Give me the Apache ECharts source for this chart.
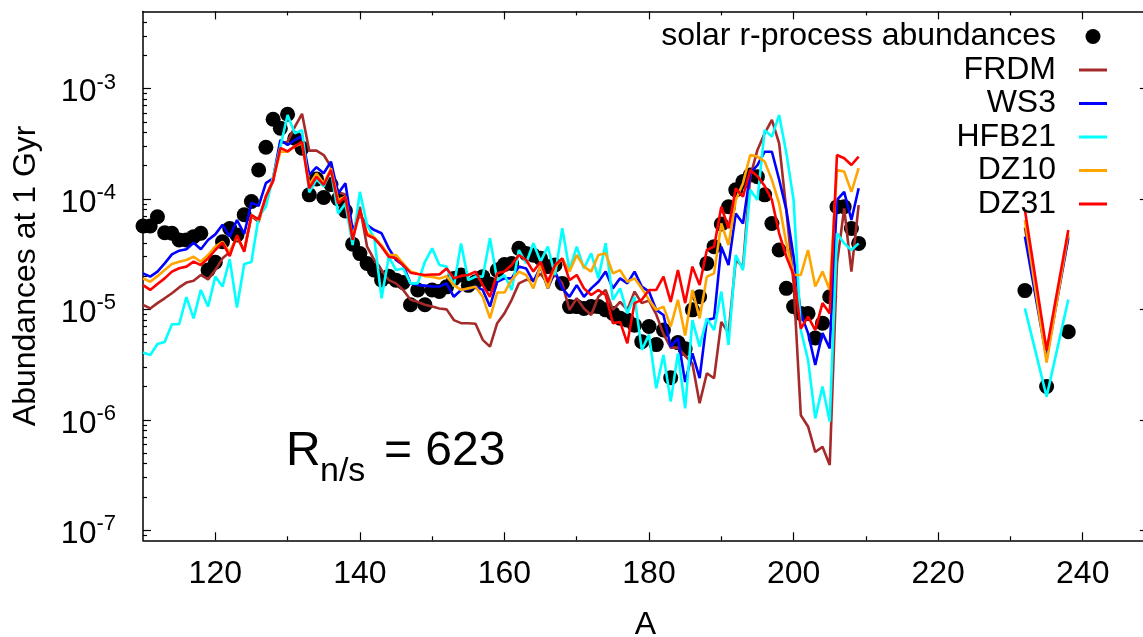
<!DOCTYPE html>
<html>
<head>
<meta charset="utf-8">
<script src="https://cdn.jsdelivr.net/npm/echarts@6/dist/echarts.min.js"></script>
<style>
  html, body { margin: 0; padding: 0; background: #fff; }
  #chart { width: 1143px; height: 637px; }
</style>
</head>
<body>
<div id="chart"></div>
<script>
// mass numbers A = 110 .. 209, then the actinides
const massNumbers = Array.from({ length: 100 }, (_, i) => 110 + i)
const actinideMass = [232, 235, 238]

const solar = [
  5.7e-5, 5.7e-5, 6.9e-5, 4.95e-5, 4.9e-5, 4.26e-5, 4.26e-5, 4.56e-5, 4.9e-5, 2.27e-5,
  2.67e-5, 4.1e-5, 5.4e-5, 4.72e-5, 7.2e-5, 9.5e-5, 1.83e-4, 2.94e-4, 5.27e-4, 4.37e-4,
  5.85e-4, 3.55e-4, 2.88e-4, 1.09e-4, 1.52e-4, 1.03e-4, 1.35e-4, 1.0e-4, 7.8e-5, 3.9e-5,
  3.2e-5, 2.6e-5, 2.27e-5, 1.85e-5, 2.0e-5, 1.84e-5, 1.75e-5, 1.1e-5, 1.5e-5, 1.1e-5,
  1.5e-5, 1.45e-5, 1.6e-5, 1.9e-5, 2.05e-5, 1.65e-5, 1.78e-5, 1.98e-5, 1.7e-5, 2.27e-5,
  2.55e-5, 2.6e-5, 3.57e-5, 3.2e-5, 3.1e-5, 2.9e-5, 2.44e-5, 2.52e-5, 1.72e-5, 1.06e-5,
  1.06e-5, 1.02e-5, 1.06e-5, 1.06e-5, 9.9e-6, 9.2e-6, 8.3e-6, 8.0e-6, 7.2e-6, 5.1e-6,
  7.0e-6, 4.8e-6, 6.5e-6, 2.4e-6, 5.0e-6, 4.4e-6, 9.9e-6, 1.3e-5, 2.61e-5, 3.7e-5,
  5.94e-5, 8.5e-5, 1.21e-4, 1.44e-4, 1.65e-4, 1.59e-4, 1.09e-4, 6.0e-5, 3.45e-5, 1.55e-5,
  1.06e-5, 9.2e-6, 9.2e-6, 5.5e-6, 7.5e-6, 1.3e-5, 8.5e-5, 8.5e-5, 5.4e-5, 3.96e-5
]
const solarActinides = [1.48e-5, 2.0e-6, 6.28e-6]

const frdm = [
  1.1e-5, 1.02e-5, 1.14e-5, 1.26e-5, 1.4e-5, 1.58e-5, 1.75e-5, 1.82e-5, 2.05e-5, 1.87e-5,
  2.27e-5, 2.9e-5, 3.3e-5, 4.5e-5, 3.4e-5, 7.0e-5, 6.2e-5, 1.05e-4, 1.45e-4, 3.2e-4,
  3.3e-4, 4.5e-4, 5.9e-4, 2.74e-4, 2.74e-4, 2.5e-4, 1.96e-4, 1.15e-4, 1.1e-4, 4.5e-5,
  8.5e-5, 3.7e-5, 2.8e-5, 2.27e-5, 1.84e-5, 1.72e-5, 1.5e-5, 1.22e-5, 1.17e-5, 1.1e-5,
  1.06e-5, 1.02e-5, 1.0e-5, 8.0e-6, 7.5e-6, 7.5e-6, 7.4e-6, 5.3e-6, 4.6e-6, 7.5e-6,
  9.2e-6, 1.22e-5, 1.72e-5, 1.85e-5, 1.85e-5, 2.1e-5, 1.72e-5, 2.05e-5, 1.72e-5, 9.9e-6,
  1.26e-5, 1.02e-5, 8.9e-6, 1.3e-5, 1.5e-5, 9.9e-6, 1.17e-5, 9.9e-6, 1.45e-5, 1.14e-5,
  1.2e-5, 9.0e-6, 6.0e-6, 4.5e-6, 4.5e-6, 3.8e-6, 3.24e-6, 1.41e-6, 2.64e-6, 2.38e-6,
  7.7e-6, 6.1e-6, 2.8e-5, 2.44e-5, 1.59e-4, 2.78e-4, 3.93e-4, 5.2e-4, 3.19e-4, 7.9e-5,
  1.72e-5, 1.1e-6, 8.7e-7, 5.1e-7, 5.7e-7, 3.9e-7, 2.6e-5, 8.2e-5, 2.2e-5, 8.8e-5
]
const frdmActinides = [5.5e-5, 3.8e-6, 4.6e-5]

const ws3 = [
  2.12e-5, 1.98e-5, 2.2e-5, 2.61e-5, 3.15e-5, 3.4e-5, 3.5e-5, 4.02e-5, 3.5e-5, 4.25e-5,
  4.78e-5, 5.85e-5, 4.56e-5, 6.45e-5, 4.82e-5, 9.27e-5, 8.65e-5, 1.39e-4, 1.54e-4, 3.42e-4,
  3.08e-4, 3.42e-4, 3.72e-4, 1.65e-4, 1.94e-4, 1.71e-4, 2.18e-4, 1.12e-4, 1.39e-4, 5.23e-5,
  7.16e-5, 5.8e-5, 5.23e-5, 4.89e-5, 3.57e-5, 2.8e-5, 2.52e-5, 1.72e-5, 1.66e-5, 1.64e-5,
  1.61e-5, 1.61e-5, 1.72e-5, 1.3e-5, 1.5e-5, 1.52e-5, 1.61e-5, 1.5e-5, 1.06e-5, 1.78e-5,
  1.91e-5, 1.91e-5, 2.44e-5, 2.35e-5, 1.78e-5, 2.44e-5, 1.55e-5, 2.2e-5, 1.55e-5, 1.3e-5,
  1.66e-5, 1.3e-5, 1.55e-5, 1.78e-5, 2.2e-5, 1.55e-5, 1.91e-5, 1.72e-5, 2.2e-5, 1.61e-5,
  1.45e-5, 9.9e-6, 8.9e-6, 4.6e-6, 5.5e-6, 2.2e-6, 4.0e-6, 2.38e-6, 8.0e-6, 8.3e-6,
  3.7e-5, 2.52e-5, 7.4e-5, 6.0e-5, 1.71e-4, 2.03e-4, 2.68e-4, 2.68e-4, 1.5e-4, 7.95e-5,
  3.0e-5, 9.2e-6, 6.1e-6, 3.13e-6, 6.1e-6, 4.43e-6, 9.8e-5, 1.16e-4, 6.45e-5, 1.25e-4
]
const ws3Actinides = [4.56e-5, 3.6e-6, 4.4e-5]

const hfb21 = [
  4.06e-6, 3.86e-6, 4.86e-6, 5.07e-6, 7.33e-6, 7.33e-6, 1.29e-5, 8.3e-6, 1.5e-5, 1.06e-5,
  1.98e-5, 1.61e-5, 2.84e-5, 1.04e-5, 2.58e-5, 2.69e-5, 6.9e-5, 8.5e-5, 1.6e-4, 2.98e-4,
  5.77e-4, 3.94e-4, 4.2e-4, 1.15e-4, 1.5e-4, 1.3e-4, 1.8e-4, 7.4e-5, 9.1e-5, 3.83e-5,
  1.16e-4, 5.8e-5, 4.4e-5, 1.26e-5, 3.0e-5, 2.27e-5, 2.35e-5, 1.72e-5, 1.72e-5, 2.7e-5,
  3.57e-5, 2.52e-5, 2.44e-5, 1.61e-5, 3.96e-5, 1.84e-5, 1.98e-5, 1.98e-5, 4.4e-5, 1.84e-5,
  2.05e-5, 1.5e-5, 3.45e-5, 2.62e-5, 3.97e-5, 2.71e-5, 3.7e-5, 2.05e-5, 5.43e-5, 2.27e-5,
  3.7e-5, 2.35e-5, 3.22e-5, 1.91e-5, 3.97e-5, 1.22e-5, 1.55e-5, 9.2e-6, 1.3e-5, 4.3e-6,
  5.9e-6, 1.93e-6, 3.87e-6, 1.46e-6, 4.0e-6, 1.27e-6, 8.0e-6, 4.6e-6, 8.3e-6, 6.5e-6,
  1.45e-5, 4.76e-6, 3.11e-5, 2.27e-5, 1.21e-4, 9.8e-5, 4.22e-4, 3.67e-4, 5.77e-4, 2.6e-4,
  9.8e-5, 6.5e-6, 3.48e-6, 1.03e-6, 2.0e-6, 9.6e-7, 4.89e-5, 3.96e-5, 3.45e-5, 3.96e-5
]
const hfb21Actinides = [1.02e-5, 1.62e-6, 1.23e-5]

const dz10 = [
  1.91e-5, 1.78e-5, 2.0e-5, 2.27e-5, 2.58e-5, 2.7e-5, 2.8e-5, 3.0e-5, 2.7e-5, 3.11e-5,
  3.7e-5, 4.1e-5, 3.22e-5, 4.55e-5, 3.45e-5, 7.16e-5, 6.45e-5, 1.05e-4, 1.5e-4, 2.68e-4,
  2.68e-4, 3.0e-4, 3.2e-4, 1.34e-4, 1.7e-4, 1.38e-4, 1.9e-4, 9.8e-5, 1.05e-4, 4.4e-5,
  7.7e-5, 4.9e-5, 4.5e-5, 3.8e-5, 3.1e-5, 3.1e-5, 2.6e-5, 2.2e-5, 2.1e-5, 2.0e-5,
  1.97e-5, 1.9e-5, 2.0e-5, 1.66e-5, 1.5e-5, 1.55e-5, 1.6e-5, 1.3e-5, 8.3e-6, 1.42e-5,
  1.42e-5, 1.85e-5, 2.2e-5, 2.05e-5, 1.55e-5, 2.52e-5, 1.55e-5, 2.44e-5, 2.9e-5, 2.2e-5,
  3.11e-5, 2.44e-5, 2.2e-5, 3.11e-5, 3.22e-5, 2.12e-5, 2.27e-5, 1.78e-5, 1.91e-5, 1.55e-5,
  1.22e-5, 9.9e-6, 1.06e-5, 7.0e-6, 1.22e-5, 5.8e-6, 1.5e-5, 8.3e-6, 1.98e-5, 2.12e-5,
  6.0e-5, 3.83e-5, 9.8e-5, 1.39e-4, 2.5e-4, 2.42e-4, 2.18e-4, 1.49e-4, 9.1e-5, 3.96e-5,
  2.05e-5, 2.05e-5, 3.45e-5, 1.61e-5, 2.2e-5, 1.5e-5, 1.83e-4, 1.77e-4, 1.16e-4, 1.9e-4
]
const dz10Actinides = [6.45e-5, 3.3e-6, 4.9e-5]

const dz31 = [
  1.66e-5, 1.5e-5, 1.7e-5, 1.91e-5, 2.2e-5, 2.36e-5, 2.44e-5, 2.71e-5, 2.52e-5, 2.9e-5,
  3.45e-5, 4.02e-5, 3.04e-5, 4.71e-5, 3.33e-5, 7.16e-5, 6.54e-5, 1.05e-4, 1.47e-4, 2.9e-4,
  2.7e-4, 3.0e-4, 3.3e-4, 1.25e-4, 1.59e-4, 1.34e-4, 1.83e-4, 9.1e-5, 1.05e-4, 4.26e-5,
  7.95e-5, 4.72e-5, 4.4e-5, 3.7e-5, 3.0e-5, 2.9e-5, 2.52e-5, 2.15e-5, 2.09e-5, 2.05e-5,
  2.07e-5, 2.07e-5, 2.35e-5, 1.91e-5, 2.01e-5, 2.05e-5, 2.2e-5, 1.66e-5, 1.3e-5, 2.12e-5,
  2.2e-5, 2.52e-5, 3.11e-5, 2.8e-5, 2.2e-5, 2.7e-5, 1.78e-5, 2.52e-5, 2.9e-5, 1.84e-5,
  2.05e-5, 1.55e-5, 1.35e-5, 1.5e-5, 1.35e-5, 7.5e-6, 7.7e-6, 4.93e-6, 1.14e-5, 1.22e-5,
  1.5e-5, 1.5e-5, 1.98e-5, 1.17e-5, 2.27e-5, 1.14e-5, 2.44e-5, 1.66e-5, 3.45e-5, 3.7e-5,
  8.5e-5, 5.42e-5, 1.25e-4, 1.05e-4, 1.83e-4, 1.61e-4, 1.31e-4, 9.8e-5, 4.89e-5, 3.0e-5,
  2.05e-5, 6.7e-6, 8.6e-6, 6.5e-6, 1.14e-5, 9.2e-6, 2.5e-4, 2.34e-4, 2.03e-4, 2.42e-4
]
const dz31Actinides = [7.95e-5, 4.28e-6, 5.23e-5]

// axis ticks
const xMajorTicks = [120, 140, 160, 180, 200, 220, 240]
const xMinorTicks = [130, 150, 170, 190, 210, 230]
const yMajorTicks = [1e-7, 1e-6, 1e-5, 1e-4, 1e-3]
const yMinorTicks = [
  9e-8,
  2e-7, 3e-7, 4e-7, 5e-7, 6e-7, 7e-7, 8e-7, 9e-7,
  2e-6, 3e-6, 4e-6, 5e-6, 6e-6, 7e-6, 8e-6, 9e-6,
  2e-5, 3e-5, 4e-5, 5e-5, 6e-5, 7e-5, 8e-5, 9e-5,
  2e-4, 3e-4, 4e-4, 5e-4, 6e-4, 7e-4, 8e-4, 9e-4,
  2e-3, 3e-3, 4e-3
]

const FONT = "Liberation Sans, Arial, sans-serif"
// flat bar used as legend sample for the model lines
const LINE_ICON = "path://M0,0H28V3H0Z"

// main region and actinides, with a break in between
function toPairs(main, act) {
  const pts = main.map((v, i) => [massNumbers[i], v])
  pts.push([220, null])
  actinideMass.forEach((a, i) => pts.push([a, act[i]]))
  return pts
}

function lineSeries(name, color, main, act) {
  return {
    name: name,
    type: "line",
    symbol: "none",
    connectNulls: false,
    lineStyle: { color: color, width: 2.6 },
    itemStyle: { color: color },
    data: toPairs(main, act)
  }
}

const axisLineStyle = { show: true, lineStyle: { color: "#000", width: 1.5 } }

function xAxisDef(position, ticks, len, withLabels, showLine) {
  return {
    type: "value",
    position: position,
    min: 110,
    max: 249,
    axisLine: showLine ? axisLineStyle : { show: false },
    axisTick: {
      show: true,
      inside: true,
      length: len,
      customValues: ticks,
      lineStyle: { color: "#000", width: 1.2 }
    },
    axisLabel: withLabels
      ? { show: true, customValues: ticks, fontSize: 32, fontFamily: FONT, color: "#000", margin: 18 }
      : { show: false },
    splitLine: { show: false }
  }
}

function yAxisDef(position, ticks, len, withLabels, showLine) {
  return {
    type: "log",
    position: position,
    min: 8.1e-8,
    max: 5e-3,
    axisLine: showLine ? axisLineStyle : { show: false },
    axisTick: {
      show: true,
      inside: true,
      length: len,
      customValues: ticks,
      lineStyle: { color: "#000", width: 1.2 }
    },
    axisLabel: withLabels
      ? {
          show: true,
          customValues: ticks,
          margin: 27,
          formatter: (v) => "{b|10}{s|" + Math.round(Math.log10(v)) + "}",
          rich: {
            b: { fontSize: 32, fontFamily: FONT, color: "#000", lineHeight: 34, padding: [8, 0, 0, 0] },
            s: { fontSize: 22, fontFamily: FONT, color: "#000", lineHeight: 30, verticalAlign: "top" }
          }
        }
      : { show: false },
    splitLine: { show: false }
  }
}

const xMain = xAxisDef("bottom", xMajorTicks, 8, true, true)
xMain.name = "A"
xMain.nameLocation = "middle"
xMain.nameGap = 69
xMain.nameTextStyle = { fontSize: 32, fontFamily: FONT, color: "#000" }

const yMain = yAxisDef("left", yMajorTicks, 8, true, true)
yMain.name = "Abundances at 1 Gyr"
yMain.nameLocation = "middle"
yMain.nameGap = 101
yMain.nameTextStyle = { fontSize: 32, fontFamily: FONT, color: "#000" }

const option = {
  animation: false,
  backgroundColor: "#fff",
  grid: {
    left: 143,
    top: 11.4,
    right: -4.8,
    bottom: 96.7,
    containLabel: false,
    outerBoundsMode: "none"
  },
  xAxis: [
    xMain,
    xAxisDef("bottom", xMinorTicks, 4, false, false),
    xAxisDef("top", xMajorTicks, 8, false, true),
    xAxisDef("top", xMinorTicks, 4, false, false)
  ],
  yAxis: [
    yMain,
    yAxisDef("left", yMinorTicks, 4, false, false),
    yAxisDef("right", yMajorTicks, 8, false, true),
    yAxisDef("right", yMinorTicks, 4, false, false)
  ],
  legend: {
    orient: "vertical",
    right: 36,
    top: 19.75,
    align: "right",
    padding: 0,
    itemWidth: 28,
    itemHeight: 15,
    itemGap: 0,
    selectedMode: false,
    textStyle: {
      fontSize: 32,
      fontFamily: FONT,
      color: "#000",
      lineHeight: 33.5,
      padding: [0, 18, 0, 0]
    },
    data: [
      { name: "solar r-process abundances", icon: "circle" },
      { name: "FRDM", icon: LINE_ICON },
      { name: "WS3", icon: LINE_ICON },
      { name: "HFB21", icon: LINE_ICON },
      { name: "DZ10", icon: LINE_ICON },
      { name: "DZ31", icon: LINE_ICON }
    ]
  },
  graphic: [
    { type: "text", x: 286, y: 476, style: { text: "R", font: "48px " + FONT, fill: "#000", textVerticalAlign: "bottom" } },
    { type: "text", x: 320, y: 489, style: { text: "n/s", font: "34px " + FONT, fill: "#000", textVerticalAlign: "bottom" } },
    { type: "text", x: 384, y: 476, style: { text: "= 623", font: "48px " + FONT, fill: "#000", textVerticalAlign: "bottom" } }
  ],
  series: [
    {
      name: "solar r-process abundances",
      type: "scatter",
      symbol: "circle",
      symbolSize: 15,
      itemStyle: { color: "#000", opacity: 1 },
      data: massNumbers.map((a, i) => [a, solar[i]])
        .concat(actinideMass.map((a, i) => [a, solarActinides[i]]))
    },
    lineSeries("FRDM", "#a52a2a", frdm, frdmActinides),
    lineSeries("WS3", "#0000ff", ws3, ws3Actinides),
    lineSeries("HFB21", "#00ffff", hfb21, hfb21Actinides),
    lineSeries("DZ10", "#ffa500", dz10, dz10Actinides),
    lineSeries("DZ31", "#ff0000", dz31, dz31Actinides)
  ]
}

const chart = echarts.init(document.getElementById("chart"), null, { renderer: "canvas" })
chart.setOption(option)
</script>
</body>
</html>
